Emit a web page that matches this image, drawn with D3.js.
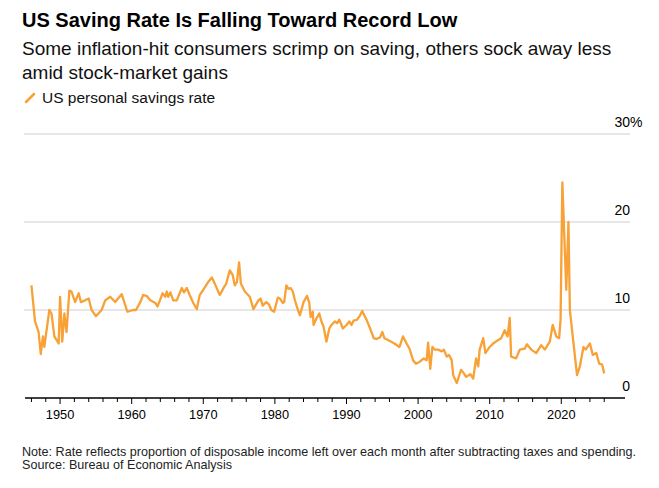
<!DOCTYPE html>
<html>
<head>
<meta charset="utf-8">
<script src="https://cdn.jsdelivr.net/npm/d3@7"></script>
<style>
    html, body { margin: 0; padding: 0; background: #fff; }
    svg { display: block; font-family: 'Liberation Sans', Arial, sans-serif; }
    .grid line { stroke: #cfcfcf; stroke-width: 1; }
    .axis text { font-size: 12.8px; fill: #000; }
</style>
</head>
<body>
<svg id="chart" width="659" height="488"></svg>
<script>
// US personal saving rate (percent).
var YEARS = [
    1946.0, 1946.5, 1947.0, 1947.3, 1947.6, 1947.8, 1948.5, 1948.8, 1949.2, 1949.5,
    1949.8, 1950.0, 1950.3, 1950.6, 1950.9, 1951.3, 1951.6, 1952.1, 1952.6, 1952.9,
    1953.5, 1954.0, 1954.4, 1955.0, 1955.8, 1956.3, 1957.0, 1957.7, 1958.6, 1959.4,
    1960.2, 1960.6, 1961.2, 1961.6, 1962.1, 1962.6, 1963.3, 1963.6, 1964.0, 1964.3,
    1964.7, 1964.9, 1965.1, 1965.4, 1965.8, 1966.3, 1967.0, 1967.3, 1967.7, 1968.1,
    1968.6, 1969.1, 1969.5, 1970.0, 1970.7, 1971.2, 1971.6, 1972.3, 1972.9, 1973.2,
    1973.7, 1974.1, 1974.4, 1974.7, 1975.0, 1975.25, 1975.8, 1976.5, 1977.0, 1977.7,
    1978.0, 1978.3, 1978.8, 1979.2, 1979.5, 1979.9, 1980.4, 1980.7, 1981.1, 1981.3,
    1981.6, 1981.9, 1982.2, 1982.5, 1982.8, 1983.3, 1983.5, 1984.0, 1984.5, 1984.8,
    1985.0, 1985.3, 1985.4, 1985.9, 1986.2, 1986.5, 1986.8, 1987.2, 1987.6, 1987.9,
    1988.4, 1988.7, 1989.0, 1989.5, 1990.0, 1990.4, 1990.7, 1991.0, 1991.5, 1991.9,
    1992.2, 1992.8, 1993.3, 1993.8, 1994.2, 1994.7, 1995.0, 1995.3, 1996.0, 1996.7,
    1997.4, 1997.9, 1998.4, 1998.8, 1999.3, 1999.7, 2000.2, 2000.8, 2001.2, 2001.4,
    2001.7, 2002.0, 2002.3, 2002.8, 2003.3, 2003.6, 2004.0, 2004.3, 2004.7, 2004.9,
    2005.4, 2006.0, 2006.4, 2006.7, 2007.3, 2007.7, 2008.1, 2008.4, 2008.6, 2009.1,
    2009.4, 2010.0, 2010.5, 2011.2, 2011.6, 2012.1, 2012.5, 2012.8, 2013.0, 2013.7,
    2014.2, 2014.9, 2015.2, 2015.8, 2016.5, 2017.2, 2017.7, 2018.4, 2018.8, 2019.3,
    2019.7, 2019.9, 2020.15, 2020.7, 2021.0, 2021.2, 2021.6, 2022.2, 2022.6, 2023.1,
    2023.4, 2024.0, 2024.4, 2024.9, 2025.3, 2025.7, 2026.0
];
var RATES = [
    12.8, 8.7, 7.5, 5.0, 7.0, 5.8, 10.0, 9.6, 7.0, 6.6,
    6.2, 11.5, 6.4, 9.6, 7.5, 12.2, 12.1, 10.9, 11.9, 10.9,
    11.1, 11.3, 10.0, 9.3, 10.0, 11.1, 11.5, 10.9, 11.8, 9.8,
    10.0, 10.0, 10.9, 11.7, 11.6, 11.1, 10.8, 10.4, 11.2, 11.9,
    11.5, 12.1, 11.5, 12.0, 11.1, 11.1, 12.5, 12.0, 12.5, 11.7,
    10.8, 10.1, 11.7, 12.3, 13.2, 13.7, 13.0, 11.7, 12.6, 13.0,
    14.5, 14.0, 12.8, 13.2, 15.4, 13.0, 12.1, 11.5, 10.1, 11.1,
    11.3, 10.5, 10.9, 10.6, 10.0, 9.8, 11.4, 11.3, 10.8, 10.9,
    12.8, 12.4, 12.5, 12.1, 11.1, 9.8, 9.4, 10.9, 11.6, 10.8,
    9.2, 9.8, 8.3, 9.2, 9.6, 8.7, 8.1, 6.4, 7.9, 8.3,
    8.7, 8.5, 8.9, 7.9, 8.3, 8.7, 8.3, 8.8, 8.9, 9.4,
    9.9, 8.9, 7.9, 6.8, 6.7, 6.9, 7.5, 6.8, 6.5, 6.2,
    5.8, 7.0, 6.2, 5.6, 4.3, 3.9, 4.1, 4.5, 4.3, 6.3,
    3.3, 5.8, 5.5, 5.5, 5.3, 5.5, 4.7, 4.9, 4.3, 2.6,
    1.7, 3.2, 2.8, 2.4, 2.7, 2.2, 4.5, 3.6, 5.5, 6.8,
    5.1, 5.8, 6.2, 6.6, 6.8, 7.7, 7.0, 9.1, 4.7, 4.5,
    5.5, 5.6, 6.1, 5.5, 5.1, 6.0, 5.5, 6.4, 8.3, 7.0,
    6.8, 8.9, 24.5, 12.3, 20.0, 10.0, 7.0, 2.6, 3.6, 5.8,
    5.5, 6.2, 4.9, 5.1, 3.9, 3.8, 2.8
];
var Y_TICKS = [0, 10, 20, 30];
var YEAR_LABELS = [1950, 1960, 1970, 1980, 1990, 2000, 2010, 2020];
var YEAR_MINOR = d3.range(1946, 2027, 2);

var TITLE = 'US Saving Rate Is Falling Toward Record Low';
var SUBTITLE = ['Some inflation-hit consumers scrimp on saving, others sock away less',
                'amid stock-market gains'];
var LEGEND = 'US personal savings rate';
var NOTES = ['Note: Rate reflects proportion of disposable income left over each month after subtracting taxes and spending.',
             'Source: Bureau of Economic Analysis'];

var ORANGE = '#f7a136';

(function () {
    var svg = d3.select('#chart');
    svg.append('rect').attr('width', 659).attr('height', 488).attr('fill', '#fff');

    var x = d3.scaleLinear().domain([1945.1, 2028.9]).range([25, 625]);
    var y = d3.scaleLinear().domain([0, 30]).range([398, 134]);

    // Header
    svg.append('text')
        .attr('x', 22).attr('y', 27)
        .attr('font-size', 20).attr('font-weight', 'bold')
        .attr('fill', '#000')
        .text(TITLE);
    SUBTITLE.forEach(function (s, i) {
        svg.append('text')
            .attr('x', 22).attr('y', 55 + i * 24)
            .attr('font-size', 19).attr('fill', '#111')
            .text(s);
    });

    // Legend
    svg.append('line')
        .attr('x1', 26).attr('y1', 102).attr('x2', 34).attr('y2', 94)
        .attr('stroke', ORANGE).attr('stroke-width', 2.5)
        .attr('stroke-linecap', 'round');
    svg.append('text')
        .attr('x', 42).attr('y', 103)
        .attr('font-size', 15.5).attr('fill', '#111')
        .text(LEGEND);

    // Grid lines (skip zero, the axis sits there)
    var grid = svg.append('g').attr('class', 'grid');
    Y_TICKS.filter(function (v) { return v > 0; }).forEach(function (v) {
        grid.append('line')
            .attr('x1', 24).attr('x2', 630)
            .attr('y1', y(v)).attr('y2', y(v));
    });

    // Y labels on the right, numbers end at the same x, % hangs out
    Y_TICKS.forEach(function (v) {
        svg.append('text')
            .attr('x', 630).attr('y', y(v) - 7)
            .attr('text-anchor', 'end')
            .attr('font-size', 14).attr('fill', '#000')
            .text(v);
    });
    svg.append('text')
        .attr('x', 630).attr('y', y(30) - 7)
        .attr('font-size', 14).attr('fill', '#000')
        .text('%');

    // Series
    var pts = YEARS.map(function (t, i) { return [t, RATES[i]]; });
    svg.append('path')
        .datum(pts)
        .attr('fill', 'none')
        .attr('stroke', ORANGE)
        .attr('stroke-width', 2.3)
        .attr('stroke-linejoin', 'round')
        .attr('d', d3.line()
            .x(function (d) { return x(d[0]); })
            .y(function (d) { return y(d[1]); }));

    // X axis: minor ticks every 2 years, labelled decades
    var ax = svg.append('g').attr('class', 'axis')
        .attr('transform', 'translate(0,' + y(0) + ')');
    ax.append('line')
        .attr('x1', 25).attr('x2', 625)
        .attr('stroke', '#000').attr('stroke-width', 1.3);
    YEAR_MINOR.forEach(function (t) {
        var major = t % 10 === 0;
        ax.append('line')
            .attr('x1', x(t)).attr('x2', x(t))
            .attr('y1', 0).attr('y2', major ? 6 : 4)
            .attr('stroke', '#000').attr('stroke-width', 1);
    });
    YEAR_LABELS.forEach(function (t) {
        ax.append('text')
            .attr('x', x(t)).attr('y', 21)
            .attr('text-anchor', 'middle')
            .text(t);
    });

    // Footer
    NOTES.forEach(function (s, i) {
        svg.append('text')
            .attr('x', 22).attr('y', 456 + i * 13)
            .attr('font-size', 12.6).attr('fill', '#222')
            .text(s);
    });
})();
</script>
</body>
</html>
